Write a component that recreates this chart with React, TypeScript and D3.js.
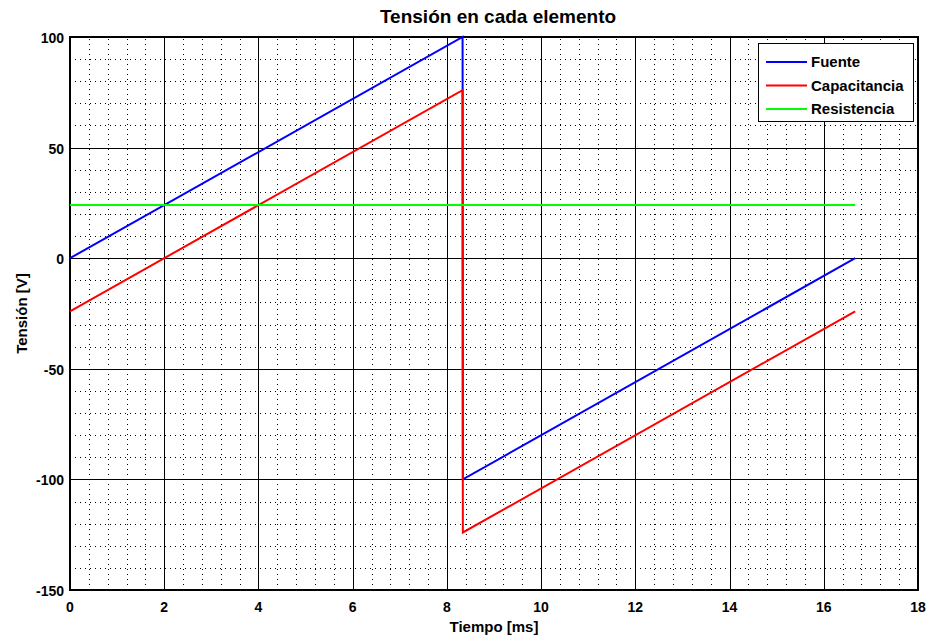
import React, { useEffect, useRef } from 'react'
import * as d3 from 'd3'

// muestras de tiempo [ms] y tensiones [V]
const tiempo = [0, 8.333, 8.336, 8.339, 16.667]
const fuente = [0, 100, 0, -100, 0]
const capacitancia = [-24, 76, -24, -124, -24]
const resistencia = [24, 24, 24, 24, 24]

const xTicks = [0, 2, 4, 6, 8, 10, 12, 14, 16, 18]
const yTicks = [-150, -100, -50, 0, 50, 100]

const series = [
  { name: 'Fuente', values: fuente, color: '#0000ff' },
  { name: 'Capacitancia', values: capacitancia, color: '#ff0000' },
  { name: 'Resistencia', values: resistencia, color: '#00ff00' },
]

export default function App() {
  const ref = useRef<SVGSVGElement>(null)

  useEffect(() => {
    const svgEl = ref.current
    if (!svgEl) return
    const svg = d3.select(svgEl)
    svg.selectAll('*').remove()

    const width = 930, height = 641
    const margin = { top: 37, right: 12, bottom: 51, left: 70 }
    const font = '"Liberation Sans", Arial, sans-serif'

    const x = d3.scaleLinear().domain([0, 18]).range([margin.left, width - margin.right])
    const y = d3.scaleLinear().domain([-150, 100]).range([height - margin.bottom, margin.top])

    svg.append('rect').attr('width', width).attr('height', height).attr('fill', '#fff')

    // minor grid (dotted)
    const minor = svg.append('g').attr('stroke', '#000').attr('stroke-width', 1)
      .attr('stroke-dasharray', '1,4').attr('shape-rendering', 'crispEdges')
    d3.range(0, 18.001, 0.4).forEach(v => {
      minor.append('line').attr('x1', Math.round(x(v)) + 0.5).attr('x2', Math.round(x(v)) + 0.5)
        .attr('y1', y(-150)).attr('y2', y(100))
    })
    d3.range(-150, 100.001, 10).forEach(v => {
      minor.append('line').attr('y1', Math.round(y(v)) + 0.5).attr('y2', Math.round(y(v)) + 0.5)
        .attr('x1', x(0)).attr('x2', x(18))
    })

    // major grid (solid)
    const major = svg.append('g').attr('stroke', '#000').attr('stroke-width', 1).attr('shape-rendering', 'crispEdges')
    xTicks.forEach(v => {
      major.append('line').attr('x1', Math.round(x(v)) + 0.5).attr('x2', Math.round(x(v)) + 0.5)
        .attr('y1', y(-150)).attr('y2', y(100))
    })
    yTicks.forEach(v => {
      major.append('line').attr('y1', Math.round(y(v)) + 0.5).attr('y2', Math.round(y(v)) + 0.5)
        .attr('x1', x(0)).attr('x2', x(18))
    })

    // frame
    svg.append('rect').attr('x', x(0)).attr('y', y(100)).attr('width', x(18) - x(0)).attr('height', y(-150) - y(100))
      .attr('fill', 'none').attr('stroke', '#000').attr('stroke-width', 2)

    // series
    const line = d3.line<number>().x((_, i) => x(tiempo[i])).y(d => y(d))
    series.forEach(s => {
      svg.append('path').datum(s.values).attr('fill', 'none').attr('stroke', s.color)
        .attr('stroke-width', 2).attr('d', line)
    })

    // tick labels
    svg.append('g').selectAll('text').data(xTicks).join('text')
      .attr('x', d => x(d)).attr('y', y(-150) + 22).attr('text-anchor', 'middle')
      .attr('font-family', font).attr('font-weight', 'bold').attr('font-size', 14).text(d => d)
    svg.append('g').selectAll('text').data(yTicks).join('text')
      .attr('x', x(0) - 6).attr('y', d => y(d) + 6).attr('text-anchor', 'end')
      .attr('font-family', font).attr('font-weight', 'bold').attr('font-size', 14).text(d => d)

    // titles
    svg.append('text').attr('x', (x(0) + x(18)) / 2 + 4).attr('y', 23).attr('text-anchor', 'middle')
      .attr('font-family', font).attr('font-weight', 'bold').attr('font-size', 19).text('Tensión en cada elemento')
    svg.append('text').attr('x', (x(0) + x(18)) / 2).attr('y', 632).attr('text-anchor', 'middle')
      .attr('font-family', font).attr('font-weight', 'bold').attr('font-size', 15).text('Tiempo [ms]')
    svg.append('text').attr('transform', `translate(27,${y(-25)}) rotate(-90)`).attr('text-anchor', 'middle')
      .attr('font-family', font).attr('font-weight', 'bold').attr('font-size', 15).text('Tensión [V]')

    // legend
    const lg = svg.append('g').attr('transform', 'translate(758,43)')
    lg.append('rect').attr('x', 0.5).attr('y', 0.5).attr('width', 155).attr('height', 78)
      .attr('fill', '#fff').attr('stroke', '#000').attr('stroke-width', 1)
    series.forEach((s, i) => {
      const yy = 19 + i * 23.5
      lg.append('line').attr('x1', 8).attr('x2', 49).attr('y1', yy).attr('y2', yy)
        .attr('stroke', s.color).attr('stroke-width', 2)
      lg.append('text').attr('x', 53).attr('y', yy + 5).attr('font-family', font)
        .attr('font-weight', 'bold').attr('font-size', 15).text(s.name)
    })
  }, [])

  return (
    <div style={{ position: 'absolute', left: 0, top: 0 }}>
      <svg ref={ref} width={930} height={641} style={{ display: 'block' }} />
    </div>
  )
}
